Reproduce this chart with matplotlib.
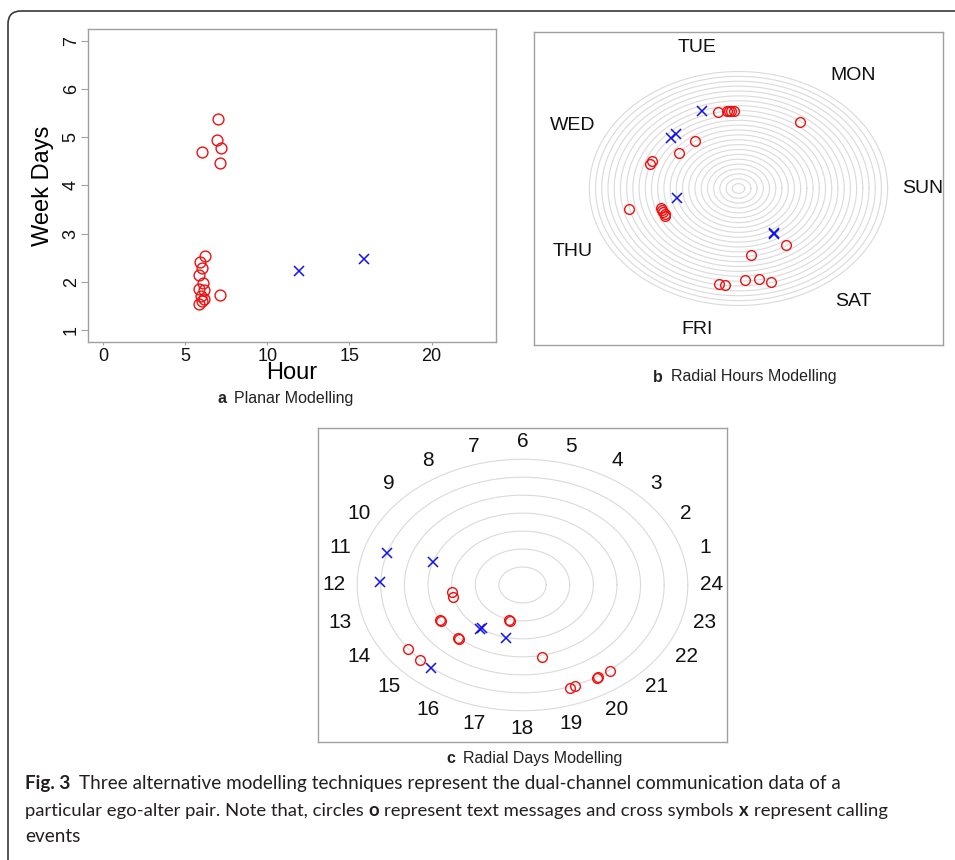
import matplotlib
matplotlib.use("Agg")
import matplotlib.pyplot as plt
import numpy as np
from matplotlib.patches import FancyBboxPatch
from matplotlib.transforms import IdentityTransform

# ---- panel a: planar (hour of day vs week day)
a_sms_hour = [6.98, 6.94, 7.15, 6.03, 7.11, 6.21, 5.87, 6.05, 5.81, 6.07,
              5.81, 6.17, 5.95, 6.17, 6.05, 5.85, 7.13]
a_sms_day = [5.37, 4.95, 4.78, 4.70, 4.46, 2.55, 2.42, 2.30, 2.14, 1.98,
             1.86, 1.84, 1.72, 1.64, 1.61, 1.54, 1.73]
a_call_hour = [11.92, 15.90]
a_call_day = [2.23, 2.47]

# ---- panel b: radial hours (x, y on the ring plane, rings = hours)
b_sms_x = [-3.22, -1.77, -1.45, -1.23, -0.70, 9.87, -6.98, -9.55, -13.96, -14.17,
           -12.50, -12.35, -12.13, -11.90, -11.80, -17.60, 7.62, 1.99,
           -3.11, -2.14, 1.02, 3.27, 5.20]
b_sms_y = [15.59, 15.80, 15.80, 15.80, 15.80, 13.60, 9.71, 7.32, 5.60, 5.06,
           -3.97, -4.38, -4.85, -5.33, -5.67, -4.24, -11.56, -13.67,
           -19.60, -19.70, -18.80, -18.50, -19.08]
b_call_x = [-5.80, -10.90, -10.10, -9.82, 5.64, 5.75]
b_call_y = [15.86, 10.32, 11.20, -1.98, -9.30, -9.22]
b_rings = list(range(1, 25))
b_days = ["SUN", "MON", "TUE", "WED", "THU", "FRI", "SAT"]

# ---- panel c: radial days (x, y on the ring plane, rings = days)
c_sms_x = [-3.00, -2.95, -3.50, -3.46, -0.58, -0.54, -2.74, -2.71, -4.86, -4.35,
           0.82, 2.02, 2.23, 3.15, 3.19, 3.71]
c_sms_y = [-0.37, -0.65, -1.96, -1.99, -1.96, -1.99, -2.95, -2.98, -3.58, -4.17,
           -3.99, -5.72, -5.63, -5.17, -5.14, -4.78]
c_call_x = [-5.74, -6.02, -3.80, -1.78, -1.72, -0.68, -3.87]
c_call_y = [1.77, 0.15, 1.26, -2.44, -2.40, -2.95, -4.61]
c_rings = list(range(1, 8))
c_hours = list(range(1, 25))

RED = "#f01010"
BLUE = "#1010f0"
RING = "#dadada"
BOX = "#a0a0a0"
PANEL_FONT = "Liberation Sans"
CAP_FONT = ["Lato", "DejaVu Sans"]

W, H = 955, 860
plt.rcParams["font.family"] = [PANEL_FONT, "DejaVu Sans"]
fig = plt.figure(figsize=(W / 100, H / 100), dpi=100)


def px_axes(left, top, right, bottom):
    return fig.add_axes([left / W, 1 - bottom / H, (right - left) / W, (bottom - top) / H])


def style_box(ax):
    for s in ax.spines.values():
        s.set_color(BOX)
        s.set_linewidth(1.0)


def text_runs(x, y, runs, ha="left", family=CAP_FONT, size=13.6, color="#231f20"):
    # runs: (text, weight, gap after in px)
    r = fig.canvas.get_renderer()
    objs = []
    cur = x
    for s, weight, gap in runs:
        t = fig.text(cur / W, 1 - y / H, s, fontweight=weight, va="baseline",
                     family=family, fontsize=size, color=color)
        cur += t.get_window_extent(r).width + gap
        objs.append(t)
    if ha == "center":
        shift = (cur - x) / 2
        for t in objs:
            px, py = t.get_position()
            t.set_x(px - shift / W)


def radial(ax, rings, labels, label_r, lim_x, lim_y, fs):
    theta = np.linspace(0, 2 * np.pi, 400)
    for r in rings:
        ax.plot(r * np.cos(theta), r * np.sin(theta), color=RING, lw=0.8, zorder=1)
    n = len(labels)
    for k, lab in enumerate(labels):
        ang = 2 * np.pi * k / n
        ax.text(label_r * np.cos(ang), label_r * np.sin(ang), lab,
                ha="center", va="center", fontsize=fs, color="#111111")
    ax.set_xlim(-lim_x, lim_x)
    ax.set_ylim(-lim_y, lim_y)
    ax.set_xticks([])
    ax.set_yticks([])
    style_box(ax)


circ = dict(marker="o", ls="none", mfc="none", mec=RED, mew=1.0, zorder=3)
cross = dict(marker="x", ls="none", color=BLUE, mew=1.1, zorder=3)

# ---- a
ax_a = px_axes(88, 29, 496, 342)
ax_a.plot(a_sms_hour, a_sms_day, ms=7.8, **circ)
ax_a.plot(a_call_hour, a_call_day, ms=7.0, **cross)
ax_a.set_xlim(-0.92, 23.92)
ax_a.set_ylim(0.76, 7.24)
ax_a.set_xticks([0, 5, 10, 15, 20])
ax_a.set_yticks([1, 2, 3, 4, 5, 6, 7])
ax_a.tick_params(axis="x", length=2.5, pad=1.5, labelsize=13, color=BOX, labelcolor="#111111")
ax_a.tick_params(axis="y", length=5, pad=1, labelsize=13, color=BOX, labelcolor="#111111",
                 labelrotation=90)
for lab in ax_a.get_yticklabels():
    lab.set_va("center")
style_box(ax_a)
fig.text(292 / W, 1 - 379 / H, "Hour", ha="center", va="baseline", fontsize=17)
fig.text(43 / W, 1 - 186 / H, "Week Days", ha="center", va="center", rotation=90, fontsize=17)

# ---- b
ax_b = px_axes(534, 32, 943, 345)
radial(ax_b, b_rings, b_days, 29.6, 32.9, 32.1, 14)
ax_b.plot(b_sms_x, b_sms_y, ms=7.0, **circ)
ax_b.plot(b_call_x, b_call_y, ms=7.0, **cross)

# ---- c
ax_c = px_axes(318, 428, 727, 742)
radial(ax_c, c_rings, [str(h) for h in [24] + c_hours[:-1]], 8.0, 8.66, 8.74, 15)
ax_c.plot(c_sms_x, c_sms_y, ms=7.0, **circ)
ax_c.plot(c_call_x, c_call_y, ms=7.0, **cross)

# ---- panel captions
text_runs(285.5, 403, [("a", "bold", 8), ("Planar Modelling", "normal", 0)],
          ha="center", family=[PANEL_FONT], size=11.5, color="#222222")
text_runs(745, 381.5, [("b", "bold", 8), ("Radial Hours Modelling", "normal", 0)],
          ha="center", family=[PANEL_FONT], size=11.5, color="#222222")
text_runs(534.5, 763, [("c", "bold", 8), ("Radial Days Modelling", "normal", 0)],
          ha="center", family=[PANEL_FONT], size=11.5, color="#222222")

# ---- figure caption
sp = 5
text_runs(25, 789, [("Fig. 3", "bold", 9),
                    ("Three alternative modelling techniques represent the dual-channel "
                     "communication data of a", "normal", 0)])
text_runs(25, 816, [("particular ego-alter pair. Note that, circles", "normal", sp),
                    ("o", "bold", sp),
                    ("represent text messages and cross symbols", "normal", sp),
                    ("x", "bold", sp),
                    ("represent calling", "normal", 0)], size=13.3)
text_runs(25, 842, [("events", "normal", 0)])

# ---- outer frame
frame = FancyBboxPatch((8, -40), 1100, H - 11 + 40,
                       boxstyle="round,pad=0,rounding_size=13",
                       transform=IdentityTransform(), fill=False,
                       ec="#3a3a3a", lw=1.2)
fig.add_artist(frame)

fig.savefig("out.png", dpi=100)
